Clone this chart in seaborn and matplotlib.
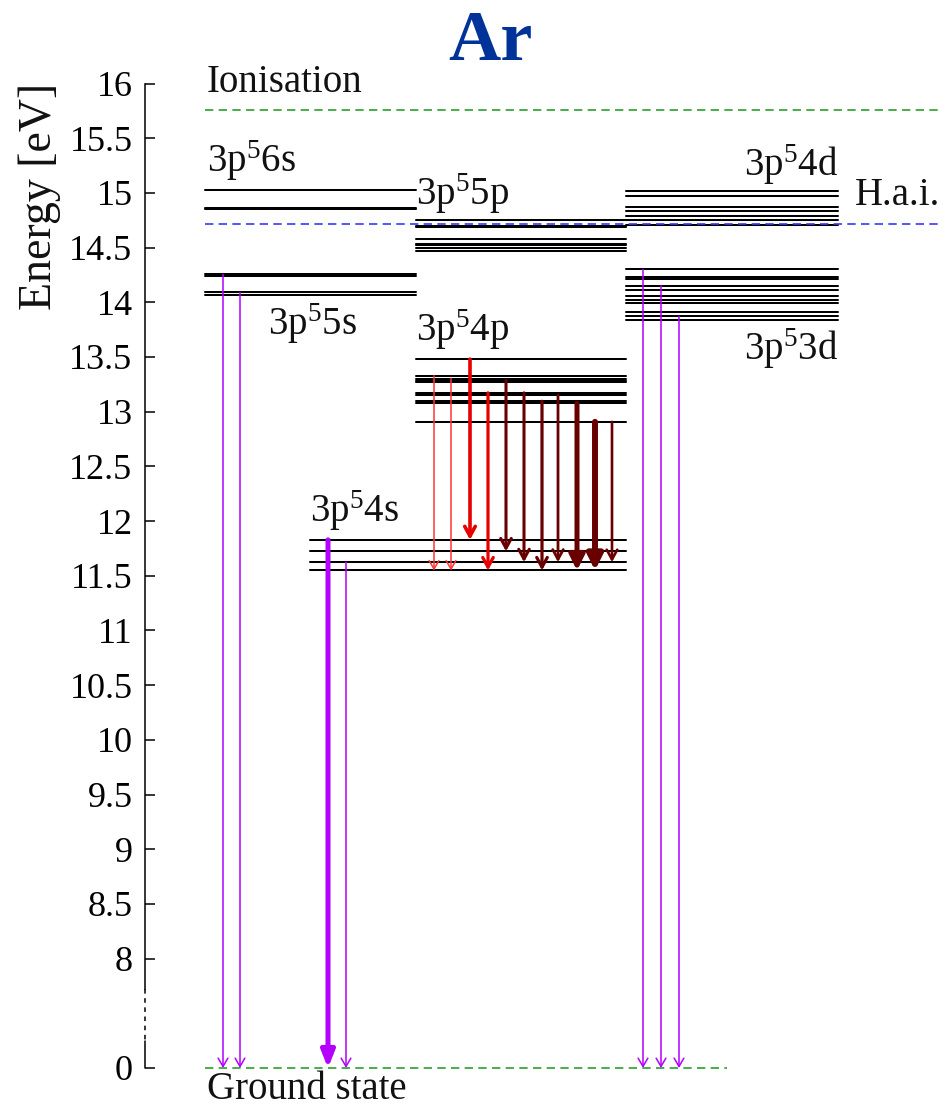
import pandas as pd
import seaborn as sns
import matplotlib.pyplot as plt

sns.set_theme(style="white")
plt.rcParams['font.family'] = ['Liberation Serif', 'DejaVu Serif']
plt.rcParams['mathtext.fontset'] = 'custom'
plt.rcParams['mathtext.rm'] = 'Liberation Serif'
plt.rcParams['mathtext.it'] = 'Liberation Serif:italic'

# energy levels of Ar [eV]
lev_6s = [14.85, 14.86, 15.03]
lev_5s = [14.068, 14.090, 14.241, 14.255]
lev_4s = [11.548, 11.624, 11.723, 11.828]
lev_5p = [14.47, 14.50, 14.52, 14.53, 14.58, 14.69, 14.70, 14.75]
lev_4p = [12.907, 13.076, 13.095, 13.153, 13.172, 13.273, 13.283, 13.302, 13.328, 13.480]
lev_4d = [14.71, 14.75, 14.79, 14.83, 14.87, 14.97, 15.02]
lev_3d = [13.84, 13.87, 13.91, 13.99, 14.02, 14.06, 14.11, 14.15, 14.214, 14.234, 14.30]
e_ion = 15.76
e_hai = 14.72
e_ground = 0.0

# resonance lines to the ground state (upper level)
uv_upper = [14.255, 14.090, 11.828, 11.624, 14.30, 14.15, 13.87]
uv_width = [1.1, 1.1, 3.6, 1.1, 1.1, 1.1, 1.1]

# 4p -> 4s lines
red_upper = [13.328, 13.302, 13.480, 13.172, 13.283, 13.172, 13.095, 13.153, 13.076, 12.907, 12.907]
red_lower = [11.548, 11.548, 11.828, 11.548, 11.723, 11.624, 11.548, 11.624, 11.548, 11.548, 11.624]
red_shade = ['light', 'light', 'red', 'red', 'dark', 'dark', 'dark', 'dark', 'dark', 'dark', 'dark']
red_width = [1.1, 1.1, 2.6, 2.3, 2.2, 2.2, 2.3, 2.0, 3.6, 4.3, 1.9]

# layout (x in pixel-like units of the figure)
BREAK = 7.0          # where 0 eV sits on the broken axis
col_a = (205, 416)   # 6s / 5s
col_s = (310, 626)   # 4s
col_b = (416, 626)   # 5p / 4p
col_c = (626, 838)   # 4d / 3d
uv_x = [223, 240, 328, 346, 643, 661, 679]
red_x = [434, 451, 470, 488, 506, 524, 542, 558, 577, 595, 612]
shade_col = {'light': '#ff3535', 'red': '#e60000', 'dark': '#680000'}
purple = '#b300ff'

rows = []
k = 0
for span, levels in [(col_a, lev_6s), (col_a, lev_5s), (col_s, lev_4s), (col_b, lev_5p),
                     (col_b, lev_4p), (col_c, lev_4d), (col_c, lev_3d)]:
    for e in levels:
        rows.append({'id': k, 'x': span[0], 'E': e})
        rows.append({'id': k, 'x': span[1], 'E': e})
        k += 1
df = pd.DataFrame(rows)

fig = plt.figure(figsize=(9.43, 11.08), dpi=100)
ax = fig.add_axes([145 / 943, 1 - 1068 / 1108, 798 / 943, (1068 - 83.5) / 1108])
ax.set_xlim(145, 943)
ax.set_ylim(BREAK, 16)

sns.lineplot(data=df, x='x', y='E', units='id', estimator=None, sort=False,
             color='black', lw=1.45, ax=ax, legend=False)

dash = (0, (5, 3.2))
ax.plot([205, 943], [e_ion, e_ion], color='#2ca02c', lw=1.2, ls=dash, clip_on=False)
ax.plot([205, 943], [e_hai, e_hai], color='#3838ff', lw=1.2, ls=dash, clip_on=False)
ax.plot([205, 727], [e_ground + BREAK] * 2, color='#2ca02c', lw=1.2, ls=dash, clip_on=False)

for x, up, w in zip(uv_x, uv_upper, uv_width):
    if w > 2:
        style = '-|>,head_length=1.0,head_width=0.4'
    else:
        style = '->,head_length=0.6,head_width=0.35'
    ax.annotate('', xy=(x, e_ground + BREAK), xytext=(x, up),
                arrowprops=dict(arrowstyle=style, color=purple, lw=w,
                                shrinkA=0, shrinkB=0, mutation_scale=10),
                annotation_clip=False)

for x, up, lo, sh, w in zip(red_x, red_upper, red_lower, red_shade, red_width):
    if sh == 'light':
        style = '->,head_length=0.6,head_width=0.35'
    elif w > 3:
        style = '-|>,head_length=0.9,head_width=0.45'
    else:
        style = '->,head_length=0.7,head_width=0.38'
    ax.annotate('', xy=(x, lo), xytext=(x, up),
                arrowprops=dict(arrowstyle=style, color=shade_col[sh], lw=w,
                                shrinkA=0, shrinkB=0, mutation_scale=10),
                annotation_clip=False)

# axis with break between 8 and 0
for s in ['top', 'right', 'bottom']:
    ax.spines[s].set_visible(False)
ax.spines['left'].set_color('black')
ax.spines['left'].set_linewidth(1.1)
ax.spines['left'].set_bounds(7.72, 16)
ax.plot([145, 145], [7.72, 7.25], color='black', lw=1.1, ls=(0, (3, 3)), clip_on=False)
ax.plot([145, 145], [7.25, 7.0], color='black', lw=1.1, clip_on=False)

ticks = [0, 8, 8.5, 9, 9.5, 10, 10.5, 11, 11.5, 12, 12.5, 13, 13.5, 14, 14.5, 15, 15.5, 16]
ax.set_yticks([t if t >= 8 else t + BREAK for t in ticks])
ax.set_yticklabels([f'{t:g}' for t in ticks])
ax.set_xticks([])
ax.tick_params(axis='y', direction='in', length=7, width=1.1, pad=9, labelsize=26,
               left=True, colors='black')
ax.set_xlabel('')
ax.set_ylabel('')

tk = dict(fontsize=28, color='#111111', va='baseline')
ax.text(207, 15.92, 'Ionisation', ha='left', **tk)
ax.text(207, 15.19, r'3p$^5$6s', ha='left', **tk)
ax.text(268, 13.70, r'3p$^5$5s', ha='left', **tk)
ax.text(416, 14.89, r'3p$^5$5p', ha='left', **tk)
ax.text(416, 13.65, r'3p$^5$4p', ha='left', **tk)
ax.text(310, 11.99, r'3p$^5$4s', ha='left', **tk)
ax.text(838, 15.15, r'3p$^5$4d', ha='right', **tk)
ax.text(838, 13.47, r'3p$^5$3d', ha='right', **tk)
ax.text(855, 14.89, 'H.a.i.', ha='left', **tk)
ax.text(207, 6.72, 'Ground state', ha='left', **tk)

fig.text(490 / 943, 1 - 60 / 1108, 'Ar', ha='center', va='baseline', fontsize=52,
         fontweight='bold', color='#003399')
fig.text(40 / 943, 1 - 196 / 1108, 'Energy [eV]', rotation=90, ha='center', va='center',
         fontsize=33, color='#111111')

fig.savefig('out.png', dpi=100, facecolor='white')
